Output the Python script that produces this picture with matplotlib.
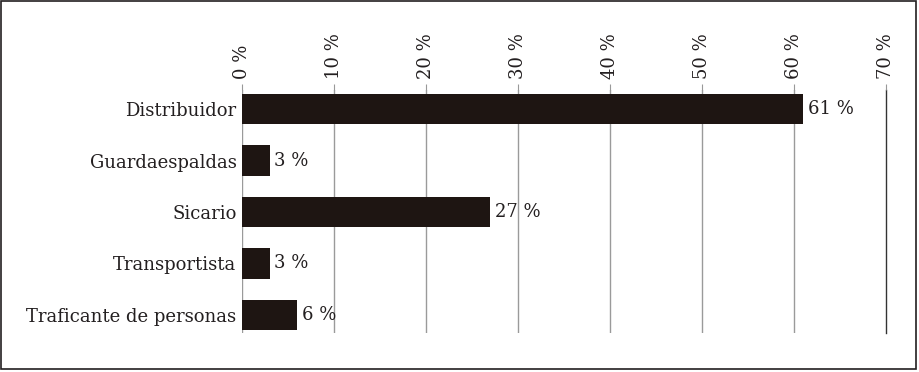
import matplotlib.pyplot as plt
from matplotlib.patches import Rectangle

categories = ['Distribuidor', 'Guardaespaldas', 'Sicario', 'Transportista', 'Traficante de personas']
values = [61, 3, 27, 3, 6]
ticks = [0, 10, 20, 30, 40, 50, 60, 70]
tick_labels = [f'{t} %' for t in ticks]

plt.rcParams['font.family'] = ['DejaVu Serif']

W, H = 919, 372
fig = plt.figure(figsize=(W / 100, H / 100), dpi=100)
ax = fig.add_axes([242 / W, 1 - 333 / H, (886 - 242) / W, (333 - 90) / H])

ax.barh(range(len(categories)), values, height=0.59, color='#1e1512', zorder=3)
for i, v in enumerate(values):
    ax.text(v + 0.5, i, f'{v} %', va='center', ha='left', fontsize=13, color='#231f20')

ax.set_xlim(0, 70)
ax.set_ylim(4.35, -0.37)
ax.set_yticks(range(len(categories)))
ax.set_yticklabels(categories, fontsize=13, color='#231f20')
ax.tick_params(axis='y', length=0, pad=4)

ax.xaxis.tick_top()
ax.set_xticks(ticks)
ax.set_xticklabels(tick_labels, rotation=90, fontsize=13, color='#231f20')
ax.tick_params(axis='x', length=4, color='#999999', pad=4)

for t in ticks[:-1]:
    ax.axvline(t, color='#9a9a9a', lw=1, zorder=1)
ax.axvline(ticks[-1], color='#333333', lw=1, zorder=1, clip_on=False)

for s in ax.spines.values():
    s.set_visible(False)

fig.patches.append(Rectangle((1 / W, 3 / H), (916 - 1) / W, (H - 4) / H, transform=fig.transFigure,
                             fill=False, edgecolor='#231f20', lw=1.2))

fig.savefig('out.png', dpi=100)
